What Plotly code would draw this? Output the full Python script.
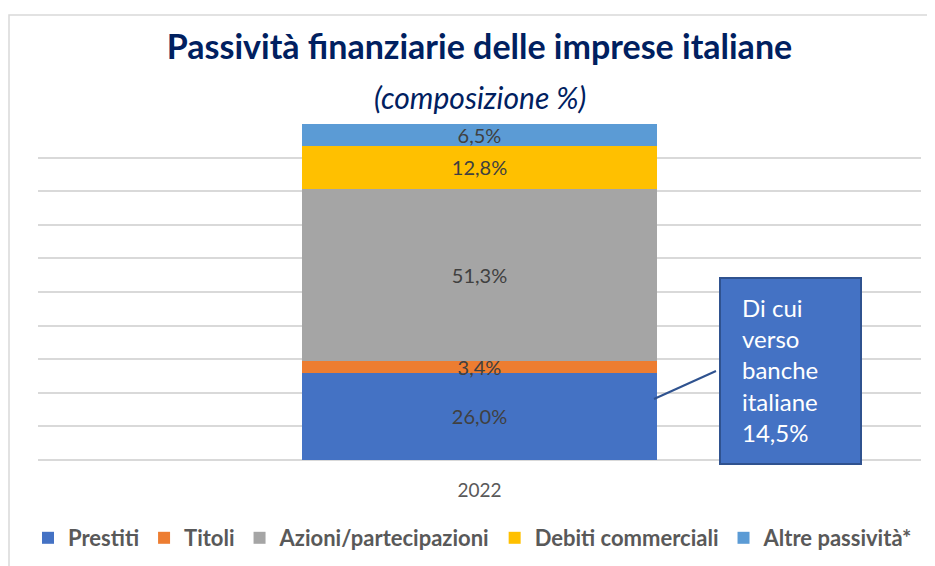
import plotly.graph_objects as go

categories = ["2022"]
series_names = ["Prestiti", "Titoli", "Azioni/partecipazioni", "Debiti commerciali", "Altre passività*"]
series_values = [[26.0], [3.4], [51.3], [12.8], [6.5]]
series_colors = ["#4472C4", "#ED7D31", "#A5A5A5", "#FFC000", "#5B9BD5"]
callout_lines = ["Di cui", "verso", "banche", "italiane", "14,5%"]

FONT = "Lato"
OFF = 8  # page body margin offset

fig = go.Figure()
for name, vals, col in zip(series_names, series_values, series_colors):
    fig.add_trace(go.Bar(
        x=categories, y=vals, name=name,
        marker=dict(color=col, line=dict(width=0)),
        texttemplate="%{y:.1f}%",
        textposition="inside",
        insidetextanchor="middle",
        constraintext="none",
        textfont=dict(family=FONT, size=20, color="#404040"),
        hoverinfo="skip",
    ))

W, H = 935 - OFF, 566 - OFF
# target page-pixel plot area: x 38..921, y 124..460
L, R, T, B = 38 - OFF, 935 - 921, 124 - OFF, 566 - 460
pw, ph = W - L - R, H - T - B

def px(x):
    return (x - OFF - L) / pw

def py(y):
    return (H - B - (y - OFF)) / ph

shapes = [
    dict(type="rect", xref="paper", yref="paper", x0=px(9), x1=px(960), y0=py(600), y1=py(15),
         line=dict(color="#D9D9D9", width=1.5), fillcolor="rgba(0,0,0,0)", layer="below"),
    dict(type="rect", xref="paper", yref="paper", x0=px(720), x1=px(861), y0=py(464), y1=py(278),
         line=dict(color="#2F528F", width=2), fillcolor="#4472C4", layer="above"),
    dict(type="line", xref="paper", yref="paper", x0=px(716), y0=py(371), x1=px(654), y1=py(399),
         line=dict(color="#2F528F", width=2)),
]

annotations = [
    dict(text="<i>(composizione %)</i>", xref="paper", yref="paper", x=0.5, y=py(97),
         xanchor="center", yanchor="middle", showarrow=False,
         font=dict(family=FONT, size=30, color="#002060")),
    dict(text="<br>".join(callout_lines), xref="paper", yref="paper", x=px(740), y=py(370),
         xanchor="left", yanchor="middle", align="left", showarrow=False,
         font=dict(family=FONT, size=24, color="#FFFFFF")),
]

fig.update_layout(
    width=W, height=H,
    margin=dict(l=L, r=R, t=T, b=B, autoexpand=False),
    barmode="stack",
    bargap=0.598,
    separators=",.",
    paper_bgcolor="#FFFFFF",
    plot_bgcolor="#FFFFFF",
    title=dict(text="<b>Passività finanziarie delle imprese italiane</b>",
               x=0.5, xanchor="center", xref="paper", y=1 - (47 - OFF) / H, yanchor="middle",
               yref="container",
               font=dict(family=FONT, size=34, color="#002060")),
    xaxis=dict(showgrid=False, showline=False, ticks="", ticklabelstandoff=17, automargin=False,
               tickfont=dict(family=FONT, size=19, color="#595959")),
    yaxis=dict(range=[0, 100], dtick=10, showticklabels=False, showgrid=True, automargin=False,
               gridcolor="#D9D9D9", gridwidth=2, zeroline=True, zerolinecolor="#D9D9D9",
               zerolinewidth=2, showline=False),
    legend=dict(orientation="h", x=px(28), xanchor="left", y=py(538), yanchor="middle",
                font=dict(family=FONT, size=22, color="#595959", weight="bold"),
                itemwidth=30, traceorder="normal"),
    shapes=shapes,
    annotations=annotations,
    showlegend=True,
)

fig.write_html("out.html")
